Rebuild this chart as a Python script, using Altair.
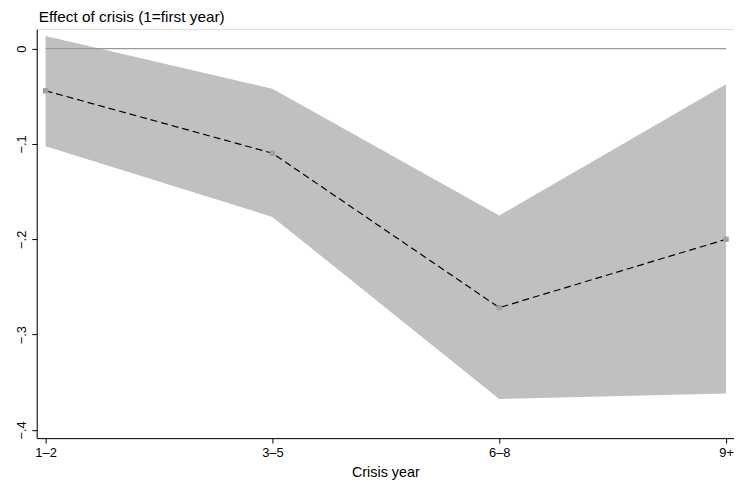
import altair as alt
import pandas as pd

categories = ["1–2", "3–5", "6–8", "9+"]
positions = [1, 2, 3, 4]
estimate = [-0.0442, -0.1097, -0.2717, -0.2000]
ci_upper = [0.0132, -0.0422, -0.1750, -0.0374]
ci_lower = [-0.1025, -0.1765, -0.3675, -0.3617]
y_ticks = [0, -0.1, -0.2, -0.3, -0.4]

df = pd.DataFrame({
    "pos": positions,
    "cat": categories,
    "est": estimate,
    "hi": ci_upper,
    "lo": ci_lower,
})
zero_df = pd.DataFrame({"x0": [positions[0]], "x1": [positions[-1]], "y": [0]})

FONT = "Liberation Sans, Arial, Helvetica, sans-serif"

label_map = "{" + ",".join(f"'{p}':'{c}'" for p, c in zip(positions, categories)) + "}"

xscale = alt.Scale(domain=[0.961, 4.035], nice=False, zero=False)
yscale = alt.Scale(domain=[-0.4086, 0.0205], nice=False, zero=False)

xaxis = alt.Axis(
    values=positions,
    labelExpr=f"{label_map}[datum.value + '']",
    title="Crisis year",
    grid=False,
    tickSize=5,
    labelPadding=4,
    titlePadding=6,
    labelFontSize=13,
    titleFontSize=14.5,
    titleFontWeight="normal",
    labelFont=FONT,
    titleFont=FONT,
    domainColor="black",
    tickColor="black",
    labelColor="black",
    titleColor="black",
)
yaxis = alt.Axis(
    values=y_ticks,
    labelExpr="datum.value == 0 ? '0' : '−' + replace(format(abs(datum.value), '.1f'), '0.', '.')",
    title=None,
    grid=False,
    tickSize=5,
    labelAngle=270,
    labelAlign="center",
    labelBaseline="bottom",
    labelPadding=3,
    labelFontSize=13,
    labelFont=FONT,
    domainColor="black",
    tickColor="black",
    labelColor="black",
)

base = alt.Chart(df)

band = base.mark_area(color="#c0c0c0", opacity=1).encode(
    x=alt.X("pos:Q", scale=xscale, axis=xaxis),
    y=alt.Y("hi:Q", scale=yscale, axis=yaxis),
    y2="lo:Q",
)

zero_rule = alt.Chart(zero_df).mark_rule(color="#9a9a9a", strokeWidth=1.2).encode(
    x=alt.X("x0:Q", scale=xscale),
    x2="x1:Q",
    y=alt.Y("y:Q", scale=yscale),
)

line = base.mark_line(color="black", strokeDash=[7, 4], strokeWidth=1.2).encode(
    x=alt.X("pos:Q", scale=xscale),
    y=alt.Y("est:Q", scale=yscale),
)

points = base.mark_point(shape="square", filled=True, color="#a0a0a0", size=30, opacity=1).encode(
    x=alt.X("pos:Q", scale=xscale),
    y=alt.Y("est:Q", scale=yscale),
)

chart = alt.layer(band, zero_rule, line, points).properties(
    width=704,
    height=413,
    title=alt.TitleParams(
        "Effect of crisis (1=first year)",
        anchor="start",
        frame="group",
        fontSize=15.5,
        fontWeight="normal",
        font=FONT,
        color="black",
        offset=3.5,
        dx=2,
    ),
    autosize=alt.AutoSizeParams(type="none"),
    padding={"left": 29, "top": 19, "right": 0, "bottom": 43},
).configure_view(stroke="#bdbdbd", strokeWidth=1).configure(background="white")

chart.save("out.html", embed_options={"renderer": "svg", "actions": False})
